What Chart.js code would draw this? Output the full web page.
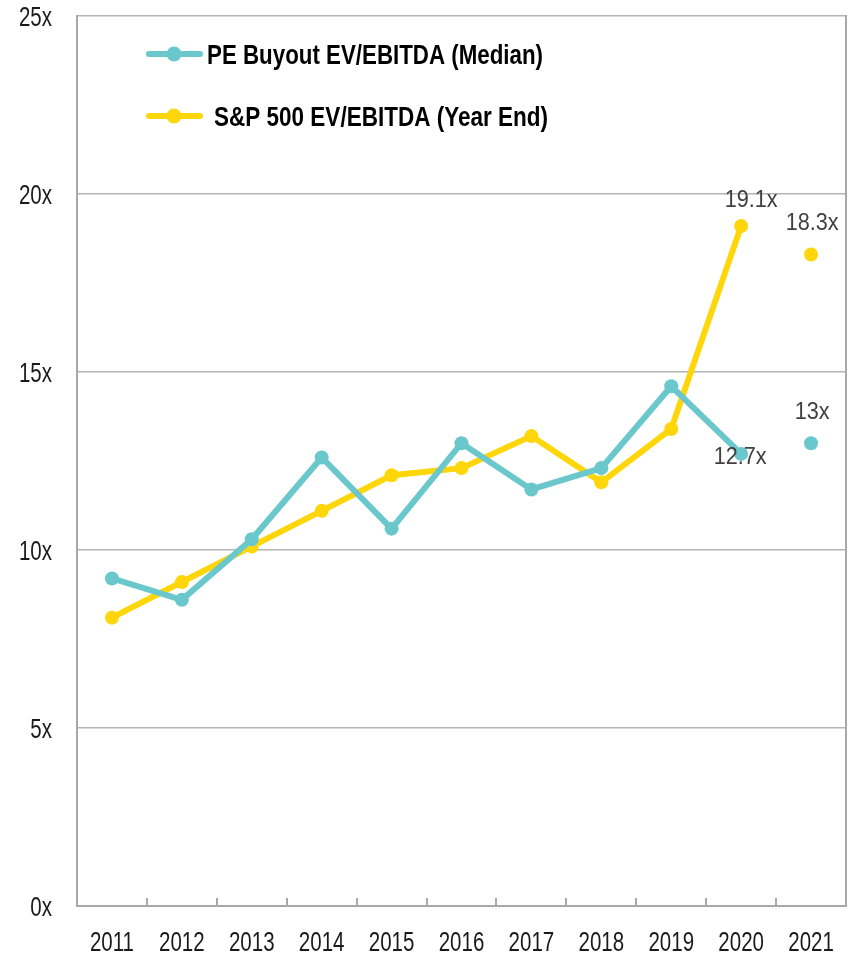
<!DOCTYPE html>
<html>
<head>
<meta charset="utf-8">
<script src="https://cdn.jsdelivr.net/npm/chart.js@4.4.1/dist/chart.umd.min.js"></script>
<style>
  html, body { margin: 0; padding: 0; background: #fff; }
  #wrap { width: 856px; height: 957px; }
</style>
</head>
<body>
<div id="wrap"><canvas id="multiples"></canvas></div>
<script>
var years = ['2011', '2012', '2013', '2014', '2015', '2016', '2017', '2018', '2019', '2020', '2021'];
var peBuyout = [9.2, 8.6, 10.3, 12.6, 10.6, 13.0, 11.7, 12.3, 14.6, 12.7, 13.0];
var sp500 = [8.1, 9.1, 10.1, 11.1, 12.1, 12.3, 13.2, 11.9, 13.4, 19.1, 18.3];
var yTicks = [0, 5, 10, 15, 20, 25];
var seriesNames = ['PE Buyout EV/EBITDA (Median)', 'S&P 500 EV/EBITDA (Year End)'];
// which points get a value label, and where it sits relative to the point
var labelled = [
    { set: 1, idx: 9, dx: 10, dy: -28 },
    { set: 1, idx: 10, dx: 1, dy: -33 },
    { set: 0, idx: 10, dx: 1, dy: -33 },
    { set: 0, idx: 9, dx: -1, dy: 2 }
];

var teal = '#6ac8cc';
var gold = '#ffd60a';
var axisGray = '#a8a8a8';
var fontFam = "'Liberation Sans', Arial, sans-serif";

// 2021 is a separate point, not joined to the line
function segColor(color) {
    return function (c) { return c.p1DataIndex === 10 ? 'rgba(0,0,0,0)' : color; };
}

// narrow-looking text: regular font squeezed horizontally, centred vertically on y
function narrowText(ctx, txt, x, y, font, size, sx, align, color) {
    ctx.save();
    ctx.font = font;
    ctx.fillStyle = color;
    ctx.textAlign = align;
    ctx.textBaseline = 'alphabetic';
    ctx.translate(x, y + size * 0.358);
    ctx.scale(sx, 1);
    ctx.fillText(txt, 0, 0);
    ctx.restore();
}

var extras = {
    id: 'extras',
    afterDraw: function (chart) {
        var ctx = chart.ctx;
        var a = chart.chartArea;
        var xs = chart.scales.x;
        var ys = chart.scales.y;
        ctx.save();
        // right border
        ctx.strokeStyle = axisGray;
        ctx.lineWidth = 2;
        ctx.beginPath();
        ctx.moveTo(a.right, a.top - 1);
        ctx.lineTo(a.right, a.bottom);
        ctx.stroke();
        // inner tick marks between categories
        for (var i = 0; i < years.length - 1; i++) {
            var bx = Math.round((xs.getPixelForTick(i) + xs.getPixelForTick(i + 1)) / 2);
            ctx.beginPath();
            ctx.moveTo(bx, a.bottom);
            ctx.lineTo(bx, a.bottom - 8);
            ctx.stroke();
        }
        ctx.restore();

        // axis labels
        yTicks.forEach(function (v) {
            narrowText(ctx, v + 'x', a.left - 25, ys.getPixelForValue(v), '27px ' + fontFam, 27, 0.76, 'right', '#1a1a1a');
        });
        years.forEach(function (yr, i) {
            narrowText(ctx, yr, xs.getPixelForTick(i), a.bottom + 35, '27px ' + fontFam, 27, 0.76, 'center', '#1a1a1a');
        });

        // legend
        var colors = [teal, gold];
        var rows = [54, 116];
        var textX = [207, 214];
        var textW = [336, 334];
        for (var k = 0; k < 2; k++) {
            ctx.save();
            ctx.strokeStyle = colors[k];
            ctx.lineWidth = 6;
            ctx.lineCap = 'round';
            ctx.beginPath();
            ctx.moveTo(149, rows[k]);
            ctx.lineTo(200, rows[k]);
            ctx.stroke();
            ctx.fillStyle = colors[k];
            ctx.beginPath();
            ctx.arc(174, rows[k], 7.5, 0, Math.PI * 2);
            ctx.fill();
            ctx.font = 'bold 28px ' + fontFam;
            var sx = textW[k] / ctx.measureText(seriesNames[k]).width;
            ctx.restore();
            narrowText(ctx, seriesNames[k], textX[k], rows[k], 'bold 28px ' + fontFam, 28, sx, 'left', '#000');
        }

        // value labels
        labelled.forEach(function (l) {
            var pt = chart.getDatasetMeta(l.set).data[l.idx];
            var v = chart.data.datasets[l.set].data[l.idx];
            var txt = (Math.round(v * 10) / 10) + 'x';
            narrowText(ctx, txt, pt.x + l.dx, pt.y + l.dy, '24px ' + fontFam, 24, 0.9, 'center', '#404040');
        });
    }
};

new Chart(document.getElementById('multiples').getContext('2d'), {
    type: 'line',
    data: {
        labels: years,
        datasets: [{
            label: seriesNames[0],
            data: peBuyout,
            borderColor: teal,
            backgroundColor: teal,
            borderWidth: 6,
            pointRadius: 7,
            pointHoverRadius: 7,
            pointBorderWidth: 0,
            segment: { borderColor: segColor(teal) }
        }, {
            label: seriesNames[1],
            data: sp500,
            borderColor: gold,
            backgroundColor: gold,
            borderWidth: 6,
            pointRadius: 7,
            pointHoverRadius: 7,
            pointBorderWidth: 0,
            segment: { borderColor: segColor(gold) }
        }]
    },
    options: {
        responsive: true,
        maintainAspectRatio: false,
        animation: false,
        layout: { padding: { top: 16, right: 10, left: 0, bottom: 0 } },
        plugins: {
            legend: { display: false },
            tooltip: { enabled: false }
        },
        scales: {
            x: {
                offset: true,
                grid: { display: false, drawTicks: false },
                border: { display: true, color: axisGray, width: 2 },
                ticks: { display: false },
                afterFit: function (s) { s.height = 51; }
            },
            y: {
                min: 0,
                max: 25,
                afterBuildTicks: function (s) {
                    s.ticks = yTicks.map(function (v) { return { value: v }; });
                },
                grid: { color: '#b4b4b4', lineWidth: 1.5, drawTicks: false },
                border: { display: true, color: axisGray, width: 2 },
                ticks: { display: false },
                afterFit: function (s) { s.width = 77; }
            }
        }
    },
    plugins: [extras]
});
</script>
</body>
</html>
